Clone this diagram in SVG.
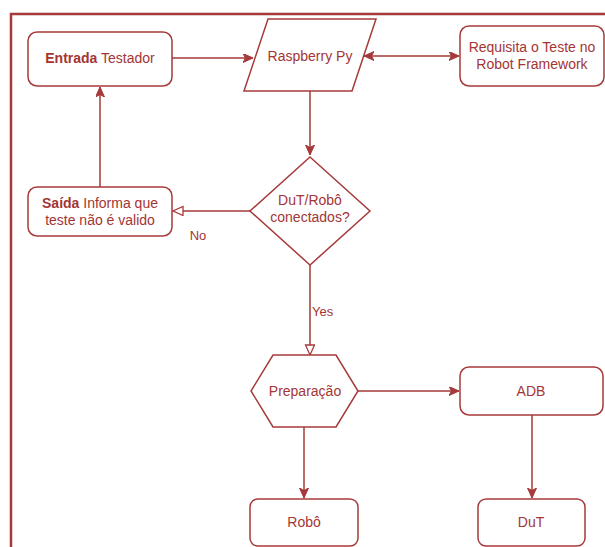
<svg xmlns="http://www.w3.org/2000/svg" width="605" height="547" viewBox="0 0 605 547">
  <style>
    .shape { fill: #ffffff; stroke: #a63a3a; stroke-width: 1.5; }
    .edge { fill: none; stroke: #a63a3a; stroke-width: 1.5; }
    .frame { fill: none; stroke: #a63a3a; stroke-width: 2.5; }
    text { font-family: "Liberation Sans", Arial, sans-serif; font-size: 14px; fill: #a33535; text-anchor: middle; }
    .lbl { font-size: 13px; }
    .b { font-weight: bold; }
  </style>
  <defs>
    <marker id="arrow" markerUnits="userSpaceOnUse" markerWidth="12" markerHeight="10" refX="10" refY="4.5" orient="auto-start-reverse">
      <path d="M0,0 L10,4.5 L0,9 L2.5,4.5 Z" fill="#a63a3a" stroke="#a63a3a" stroke-width="1"/>
    </marker>
    <marker id="open" markerUnits="userSpaceOnUse" markerWidth="14" markerHeight="12" refX="11" refY="5" orient="auto">
      <path d="M1,0.5 L11,5 L1,9.5 Z" fill="#ffffff" stroke="#a63a3a" stroke-width="1.3"/>
    </marker>
  </defs>

  <!-- outer frame -->
  <path class="frame" d="M11,547 L11,14 L605,14"/>

  <!-- connectors -->
  <g id="connectors">
    <line class="edge" x1="172" y1="58" x2="253" y2="58" marker-end="url(#arrow)"/>
    <line class="edge" x1="364" y1="56" x2="459" y2="56" marker-start="url(#arrow)" marker-end="url(#arrow)"/>
    <line class="edge" x1="310" y1="91" x2="310" y2="155" marker-end="url(#arrow)"/>
    <line class="edge" x1="250" y1="211" x2="173" y2="211" marker-end="url(#open)"/>
    <line class="edge" x1="100" y1="187" x2="100" y2="87" marker-end="url(#arrow)"/>
    <line class="edge" x1="310" y1="265" x2="310" y2="355" marker-end="url(#open)"/>
    <line class="edge" x1="358" y1="391" x2="459" y2="391" marker-end="url(#arrow)"/>
    <line class="edge" x1="304" y1="427" x2="304" y2="498" marker-end="url(#arrow)"/>
    <line class="edge" x1="532" y1="415" x2="532" y2="498" marker-end="url(#arrow)"/>
    <text class="lbl" x="198" y="240">No</text>
    <text class="lbl" x="312" y="316" style="text-anchor:start">Yes</text>
  </g>

  <g id="entrada">
    <rect class="shape" x="28" y="32" width="144" height="54" rx="9"/>
    <text x="100" y="63"><tspan class="b">Entrada</tspan> Testador</text>
  </g>

  <g id="raspberry">
    <polygon class="shape" points="268,19 376,19 352,91 244,91"/>
    <text x="310" y="61">Raspberry Py</text>
  </g>

  <g id="requisita">
    <rect class="shape" x="460" y="26" width="144" height="60" rx="9"/>
    <text x="532" y="52">Requisita o Teste no</text>
    <text x="532" y="69">Robot Framework</text>
  </g>

  <g id="decisao">
    <polygon class="shape" points="310,157 370,211 310,265 250,211"/>
    <text x="310" y="205">DuT/Robô</text>
    <text x="310" y="222">conectados?</text>
  </g>

  <g id="saida">
    <rect class="shape" x="28" y="187" width="144" height="49" rx="9"/>
    <text x="100" y="208"><tspan class="b">Saída</tspan> Informa que</text>
    <text x="100" y="225">teste não é valido</text>
  </g>

  <g id="preparacao">
    <polygon class="shape" points="273,355 336,355 358,391 336,427 273,427 251,391"/>
    <text x="305" y="396">Preparação</text>
  </g>

  <g id="adb">
    <rect class="shape" x="460" y="367" width="143" height="48" rx="9"/>
    <text x="531" y="396">ADB</text>
  </g>

  <g id="robo">
    <rect class="shape" x="250" y="499" width="108" height="47" rx="8"/>
    <text x="304" y="527">Robô</text>
  </g>

  <g id="dut">
    <rect class="shape" x="478" y="499" width="107" height="47" rx="8"/>
    <text x="531" y="527">DuT</text>
  </g>
</svg>
